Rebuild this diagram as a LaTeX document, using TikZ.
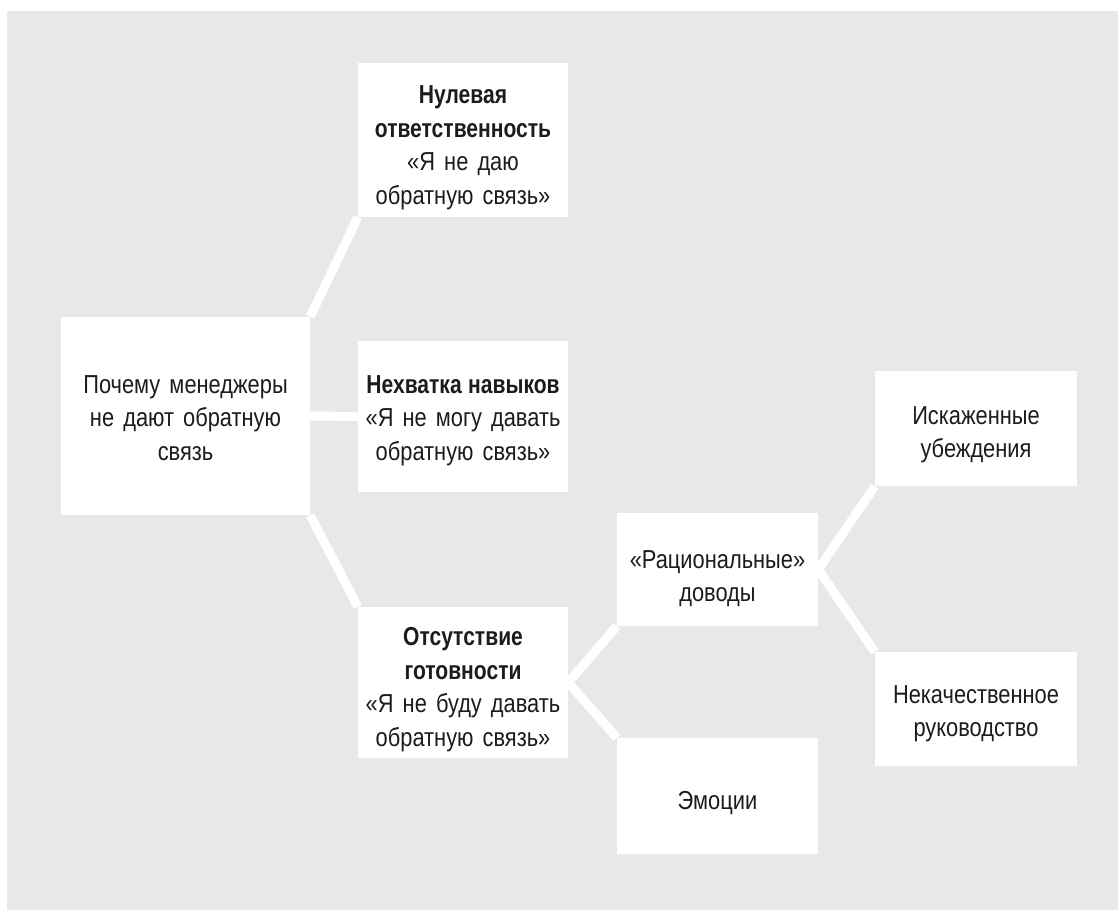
\documentclass[tikz,border=0pt]{standalone}
\usepackage{fontspec}
\setmainfont{Liberation Sans}[FakeStretch=0.84, UprightFeatures={WordSpace=1.5}, BoldFeatures={FakeStretch=0.81, WordSpace=1.1}]
\pgfdeclarelayer{back}
\pgfdeclarelayer{bg}
\pgfsetlayers{back,bg,main}
\definecolor{bggray}{RGB}{232,232,232}
\definecolor{ink}{RGB}{28,28,28}
\tikzset{
  box/.style={fill=white, draw=none, inner sep=0pt},
  txt/.style={inner sep=0pt, align=center, text=ink,
    font=\fontsize{26}{33.5}\selectfont, yshift=-#1},
  txt/.default=6pt,
  link/.style={draw=white, line width=9pt},
}
\begin{document}
\begin{tikzpicture}[x=1pt,y=-1pt]
\useasboundingbox (0,0) rectangle (1118,910);
\begin{pgfonlayer}{back}
\fill[bggray] (7,11) rectangle (1118,910);
\end{pgfonlayer}

\node[box, minimum width=249pt, minimum height=198pt,
  label={[txt=2pt]center:Почему менеджеры\\не дают обратную\\связь}] (root) at (185.5,416) {};
\node[box, minimum width=210pt, minimum height=154pt,
  label={[txt=8pt]center:\textbf{Нулевая}\\\textbf{ответственность}\\«Я не даю\\обратную связь»}] (nul) at (463,140) {};
\node[box, minimum width=210pt, minimum height=151pt,
  label={[txt=4pt]center:\textbf{Нехватка навыков}\\«Я не могу давать\\обратную связь»}] (skill) at (463,416.5) {};
\node[box, minimum width=210pt, minimum height=151pt,
  label={[txt=7pt]center:\textbf{Отсутствие}\\\textbf{готовности}\\«Я не буду давать\\обратную связь»}] (ready) at (463,682.5) {};
\node[box, minimum width=201pt, minimum height=113pt,
  label={[txt=9pt]center:«Рациональные»\\доводы}] (rat) at (717.5,569.5) {};
\node[box, minimum width=201pt, minimum height=116pt,
  label={[txt=7pt]center:Эмоции}] (emo) at (717.5,796) {};
\node[box, minimum width=202pt, minimum height=115pt,
  label={[txt=6pt]center:Искаженные\\убеждения}] (dist) at (976,428.5) {};
\node[box, minimum width=202pt, minimum height=114pt,
  label={[txt=4.5pt]center:Некачественное\\руководство}] (lead) at (976,709) {};

\begin{pgfonlayer}{bg}
\draw[link] (root.north east) -- (nul.south west);
\draw[link] (root.east) -- (skill.west);
\draw[link] (root.south east) -- (ready.north west);
\draw[link] (ready.east) -- (rat.south west);
\draw[link] (ready.east) -- (emo.north west);
\draw[link] (rat.east) -- (dist.south west);
\draw[link] (rat.east) -- (lead.north west);
\end{pgfonlayer}
\end{tikzpicture}
\end{document}
